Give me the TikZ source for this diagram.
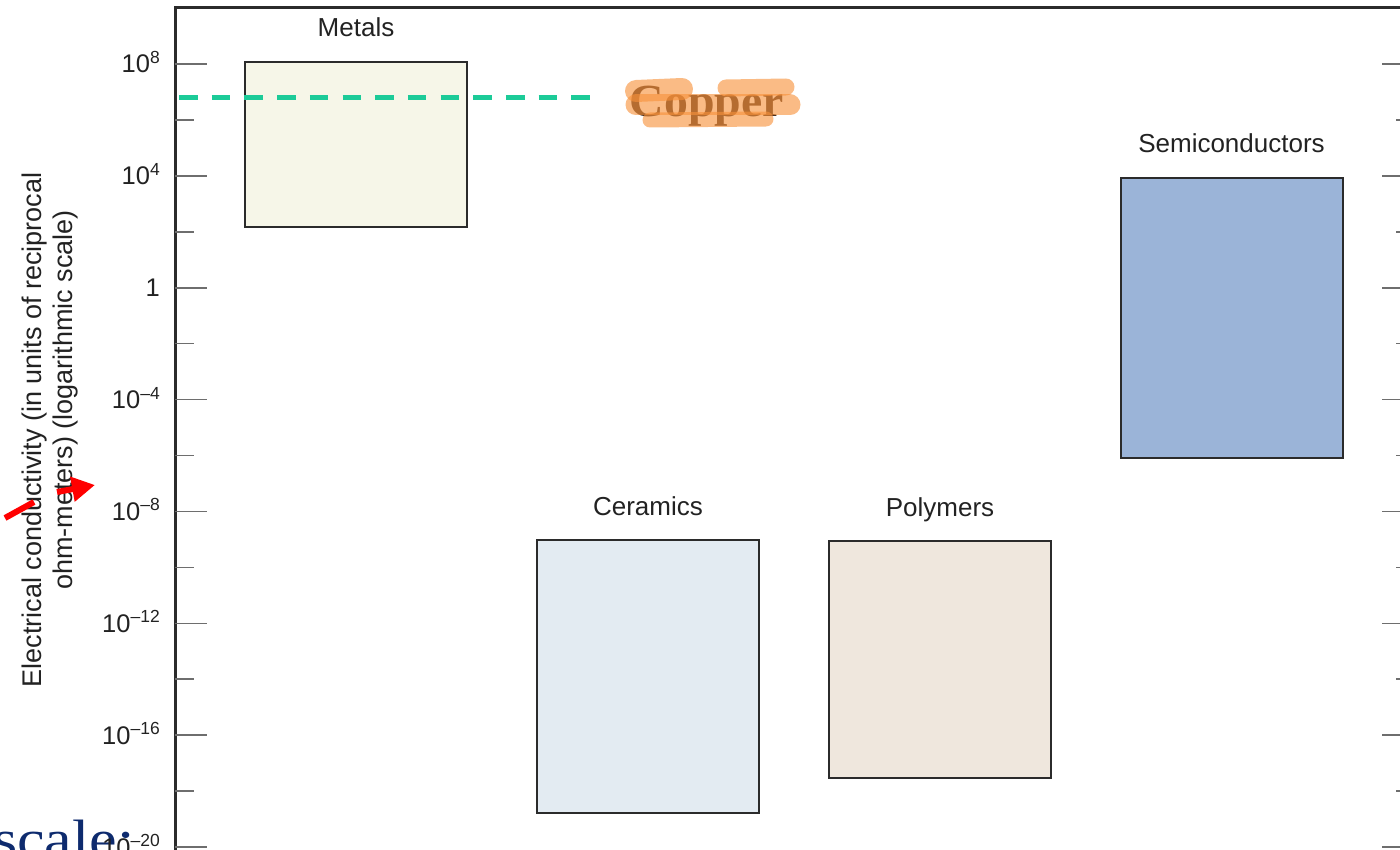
\documentclass[tikz,border=0pt]{standalone}
\usepackage{graphicx}
\usepackage{fontspec}
\setmainfont{Liberation Sans}
\newfontfamily\cuserif{Liberation Serif}
\usetikzlibrary{arrows.meta}
\definecolor{axisc}{HTML}{2B2B2B}
\definecolor{tickc}{HTML}{6E6E6E}
\definecolor{metalf}{HTML}{F6F6E8}
\definecolor{ceramf}{HTML}{E3EBF2}
\definecolor{polyf}{HTML}{EFE7DD}
\definecolor{semif}{HTML}{9BB4D8}
\definecolor{tealc}{HTML}{1CCB98}
\definecolor{navyc}{HTML}{0E2B6E}
\definecolor{hiorange}{HTML}{F7913A}
\definecolor{copperc}{HTML}{4A3020}
\definecolor{textc}{HTML}{222222}
\newcommand{\tenexp}[1]{10\raisebox{9.5pt}{\fontsize{17.5}{18}\selectfont #1}}
\begin{document}
\begin{tikzpicture}[x=1pt,y=-1pt,
  matbox/.style={draw=axisc, line width=2pt, minimum width=222pt, inner sep=0pt},
  catlabel/.style={anchor=base, font=\fontsize{26}{30}\selectfont, text=textc, inner sep=0pt},
  ticklabel/.style={anchor=base east, font=\fontsize{25.5}{30}\selectfont, text=textc, inner sep=0pt},
  ticks/.style={draw=tickc, line width=1.6pt},
  axisline/.style={draw=axisc, line width=3pt},
  copperline/.style={draw=tealc, line width=5pt, dash pattern=on 18.5pt off 14.2pt},
  redarrow/.style={draw=red, line width=6pt},
  hilite/.style={draw=hiorange, line width=#1, line cap=round, opacity=0.62},
  axtitle/.style={rotate=90, anchor=base, font=\fontsize{27}{32}\selectfont, text=textc, inner sep=0pt}]
\useasboundingbox (0,0) rectangle (1400,850);
\clip (0,0) rectangle (1400,850);

% material boxes
\node[matbox, fill=metalf, minimum height=165pt] (metals) at (356,144.5) {};
\node[matbox, fill=semif, minimum height=280pt] (semi) at (1231.5,318) {};
\node[matbox, fill=ceramf, minimum height=273pt] (ceram) at (648,676.5) {};
\node[matbox, fill=polyf, minimum height=237pt] (poly) at (940,659.5) {};

\node[catlabel] (metalsL) at ([yshift=24pt]metals.north) {Metals};
\node[catlabel] (semiL) at ([yshift=24pt]semi.north) {Semiconductors};
\node[catlabel] (ceramL) at ([yshift=24pt]ceram.north) {Ceramics};
\node[catlabel] (polyL) at ([yshift=24pt]poly.north) {Polymers};

% copper line and label
\coordinate (cuA) at (179,98);
\coordinate (cuB) at (590,98);
\draw[copperline] (cuA) -- (cuB);
\node[text=copperc, anchor=base, inner sep=0pt] (copper) at (707,117)
  {\cuserif\bfseries\fontsize{46}{50}\selectfont\scalebox{1.04}[1]{Copper}};
\coordinate (h1a) at (636,91); \coordinate (h1b) at (682,89);
\coordinate (h2a) at (726,88); \coordinate (h2b) at (786,87);
\coordinate (h3a) at (636,105); \coordinate (h3b) at (790,105);
\coordinate (h4a) at (650,120); \coordinate (h4b) at (766,119);
\draw[hilite=22pt] (h1a) -- (h1b);
\draw[hilite=17pt] (h2a) -- (h2b);
\draw[hilite=21pt] (h3a) -- (h3b);
\draw[hilite=15pt] (h4a) -- (h4b);

% axes
\coordinate (ax0) at (175,860);
\coordinate (ax1) at (175,8);
\coordinate (ax2) at (1420,8);
\draw[axisline] (ax0) -- (ax1) -- (ax2);

% scale: text
\node[anchor=base west, inner sep=0pt, text=navyc] (scaletxt) at (-7,857)
  {\cuserif\fontsize{54}{60}\selectfont\scalebox{1.15}[1]{scale:}};

% ticks
\foreach \k/\lab in {0/\tenexp{8}, 1/\tenexp{4}, 2/1, 3/\tenexp{–4}, 4/\tenexp{–8}, 5/\tenexp{–12}, 6/\tenexp{–16}, 7/\tenexp{–20}} {
  \pgfmathsetmacro\yy{64+111.86*\k}
  \pgfmathsetmacro\ym{\yy+55.93}
  \draw[ticks] (175,\yy) -- (207,\yy);
  \draw[ticks] (175,\ym) -- (194,\ym);
  \draw[ticks] (1382,\yy) -- (1414,\yy);
  \draw[ticks] (1396,\ym) -- (1414,\ym);
  \node[ticklabel] (lab\k) at (160,{\yy+9}) {\lab};
}

% axis title
\node[axtitle] (ytitle1) at (41,430) {Electrical conductivity (in units of reciprocal};
\node[axtitle] (ytitle2) at (72,400) {ohm-meters) (logarithmic scale)};

% red arrow
\coordinate (ra1) at (5,518);
\coordinate (ra2) at (34,502);
\coordinate (ra3) at (57,492);
\coordinate (ra4) at (95,485);
\draw[redarrow] (ra1) -- (ra2);
\draw[redarrow, -{Triangle[length=23pt,width=24pt]}] (ra3) -- (ra4);
\end{tikzpicture}
\end{document}
